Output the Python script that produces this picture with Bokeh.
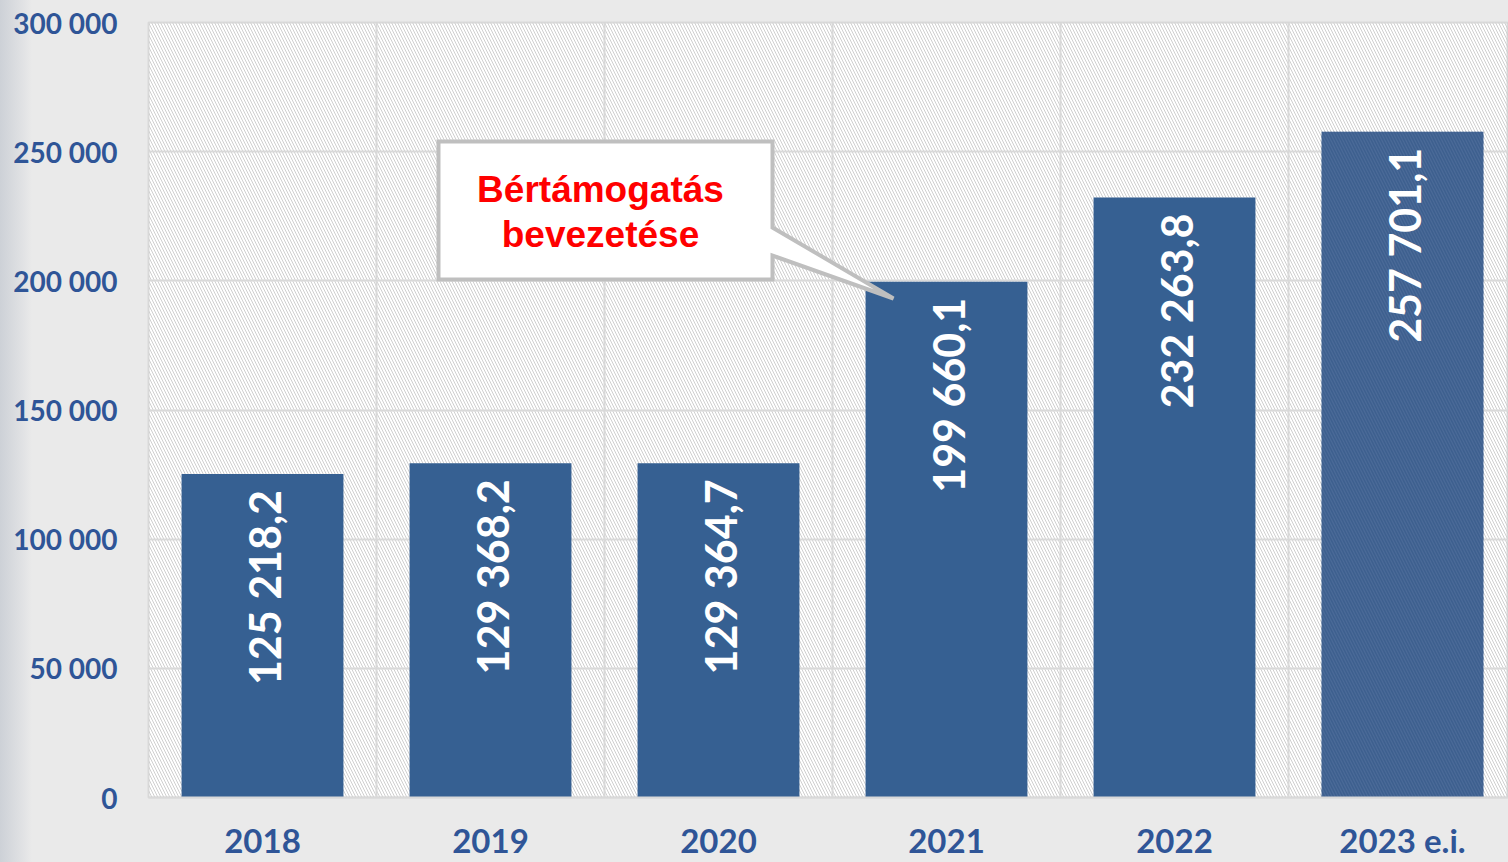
import math
from bokeh.plotting import figure
from bokeh.models import Range1d, FixedTicker, BoxAnnotation, ColumnDataSource
from bokeh.core.properties import value
from bokeh.embed import file_html
from bokeh.resources import INLINE

# ---- data ----
years = ["2018", "2019", "2020", "2021", "2022", "2023 e.i."]
amounts = [125218.2, 129368.2, 129364.7, 199660.1, 232263.8, 257701.1]
y_ticks = [0, 50000, 100000, 150000, 200000, 250000, 300000]
y_tick_labels = ["0", "50 000", "100 000", "150 000", "200 000", "250 000", "300 000"]
callout_lines = ["Bértámogatás", "bevezetése"]

def hu(v):
    s = f"{v:,.1f}"
    return s.replace(",", " ").replace(".", ",")

labels = [hu(v) for v in amounts]
xs = [i + 0.5 for i in range(len(years))]

BLUE = "#2F5597"
p = figure(width=1508, height=862, output_backend="svg", toolbar_location=None,
           x_range=Range1d(0, 1360 / 228), y_range=Range1d(0, 300000),
           min_border_left=148, min_border_top=22, min_border_bottom=65, min_border_right=0)
p.border_fill_alpha = 0
p.background_fill_color = "white"
p.outline_line_color = "#D9D9D9"
p.outline_line_width = 2

# hatched plot background
p.add_layout(BoxAnnotation(fill_alpha=0, line_alpha=0, hatch_pattern="\\", hatch_color="#CFCFCF",
                           hatch_scale=6, hatch_weight=1, level="image"))

# grids
p.ygrid.ticker = FixedTicker(ticks=y_ticks)
p.xgrid.ticker = FixedTicker(ticks=list(range(len(years) + 1)))
for g in (p.xgrid, p.ygrid):
    g.grid_line_color = "#D9D9D9"
    g.grid_line_width = 2

# axes
p.yaxis.ticker = FixedTicker(ticks=y_ticks)
p.yaxis.major_label_overrides = {t: l for t, l in zip(y_ticks, y_tick_labels)}
p.xaxis.ticker = FixedTicker(ticks=xs)
p.xaxis.major_label_overrides = {x: y for x, y in zip(xs, years)}
for ax in (p.xaxis, p.yaxis):
    ax.major_tick_line_color = None
    ax.minor_tick_line_color = None
    ax.major_label_text_font = "Lato"
    ax.major_label_text_font_style = "bold"
    ax.major_label_text_color = BLUE
p.yaxis.axis_line_color = None
p.yaxis.major_label_text_font_size = "28px"
p.yaxis.major_label_standoff = 25
p.xaxis.axis_line_color = "#D9D9D9"
p.xaxis.axis_line_width = 2
p.xaxis.major_label_text_font_size = "33px"
p.xaxis.major_label_text_line_height = 0.8
p.xaxis.major_label_standoff = 16

# bars
colors = ["#366092"] * 5 + ["#4A6A98"]
hatch = [" "] * 5 + ["\\"]
src = ColumnDataSource(dict(x=xs, top=amounts, color=colors, hatch=hatch, label=labels))
p.vbar(x="x", top="top", width=0.71, source=src, fill_color="color", line_color=None,
       hatch_pattern="hatch", hatch_color="#3A5C8C", hatch_alpha=0.8, hatch_scale=6, hatch_weight=1.5)

p.text(x="x", y="top", text="label", source=src, angle=math.pi / 2, text_align="right",
       text_baseline="middle", y_offset=16, x_offset=2, text_color="white",
       text_font=value("Lato"), text_font_style="bold", text_font_size="43px")

# callout (annotation, positioned in data units)
def dx(px):
    return (px - 148) / 228
def dy(py):
    return (797 - py) / 775 * 300000
cx = [dx(v) for v in [438, 772, 772, 893, 772, 772, 438]]
cy = [dy(v) for v in [141, 141, 227, 298, 255, 279, 279]]
p.patch(cx, cy, fill_color="white", line_color="#BFBFBF", line_width=4, line_join="miter")
p.text(x=[dx(600), dx(600)], y=[dy(189), dy(234)], text=callout_lines, text_align="center",
       text_baseline="middle", text_color="#FF0000", text_font=value("Liberation Sans"),
       text_font_style="bold", text_font_size="37px")

html = file_html(p, INLINE)
style = ('<style>html, body { margin: 0 !important; background: linear-gradient(to right, '
         '#CDD1D7 0px, #E2E3E5 24px, #EAEAEA 32px, #EAEAEA 100%) !important; }</style>')
html = html.replace("</head>", style + "</head>", 1)
open("out.html", "w").write(html)
